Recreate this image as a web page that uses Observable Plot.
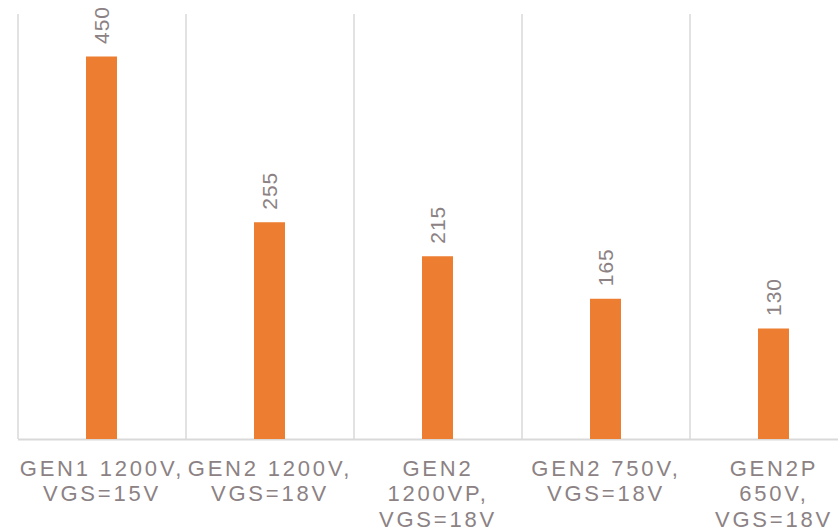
<!DOCTYPE html>
<html>
<head>
<meta charset="utf-8">
<script src="https://cdn.jsdelivr.net/npm/d3@7"></script>
<script src="https://cdn.jsdelivr.net/npm/@observablehq/plot@0.6"></script>
<style>
  html, body { margin: 0; padding: 0; background: #fff; overflow: hidden; }
  #chart svg { overflow: visible; }
  g[aria-label="x-axis tick label"] { letter-spacing: 2.8px; }
  g[aria-label="text"] { letter-spacing: 1px; }
</style>
</head>
<body>
<div id="chart"></div>
<script>
const categories = ["GEN1 1200V, VGS=15V", "GEN2 1200V, VGS=18V", "GEN2 1200VP, VGS=18V", "GEN2 750V, VGS=18V", "GEN2P 650V, VGS=18V"];
const tickLabels = ["GEN1 1200V,\nVGS=15V", "GEN2 1200V,\nVGS=18V", "GEN2\n1200VP,\nVGS=18V", "GEN2 750V,\nVGS=18V", "GEN2P\n650V,\nVGS=18V"];
const values = [450, 255, 215, 165, 130];

const data = categories.map((c, i) => ({category: c, value: values[i]}));
const textColor = "#8c8284";
const gridColor = "#d9d9d9";
const bandStep = (858 - 18) / categories.length;

const chart = Plot.plot({
  width: 838,
  height: 530,
  marginLeft: 18,
  marginRight: 0,
  marginTop: 14,
  marginBottom: 91,
  style: {fontFamily: "'Liberation Sans', Arial, sans-serif", background: "#fff"},
  x: {domain: categories, range: [18, 858], paddingInner: 0.815, paddingOuter: 0.4075, axis: null},
  y: {domain: [0, 500], axis: null},
  marks: [
    Plot.ruleX(categories, {x: d => d, dx: -bandStep / 2, stroke: gridColor, strokeWidth: 1.5}),
    Plot.ruleY([0], {stroke: gridColor, strokeWidth: 2}),
    Plot.barY(data, {x: "category", y: "value", fill: "#ED7D31"}),
    Plot.text(data, {x: "category", y: "value", text: d => String(d.value), rotate: -90, textAnchor: "start", dy: -13, fontSize: 21, fill: textColor}),
    Plot.axisX({label: null, tickSize: 0, tickPadding: 18, fontSize: 22, lineHeight: 1.16, fill: textColor, tickFormat: d => tickLabels[categories.indexOf(d)]})
  ]
});
document.getElementById("chart").appendChild(chart);
</script>
</body>
</html>
